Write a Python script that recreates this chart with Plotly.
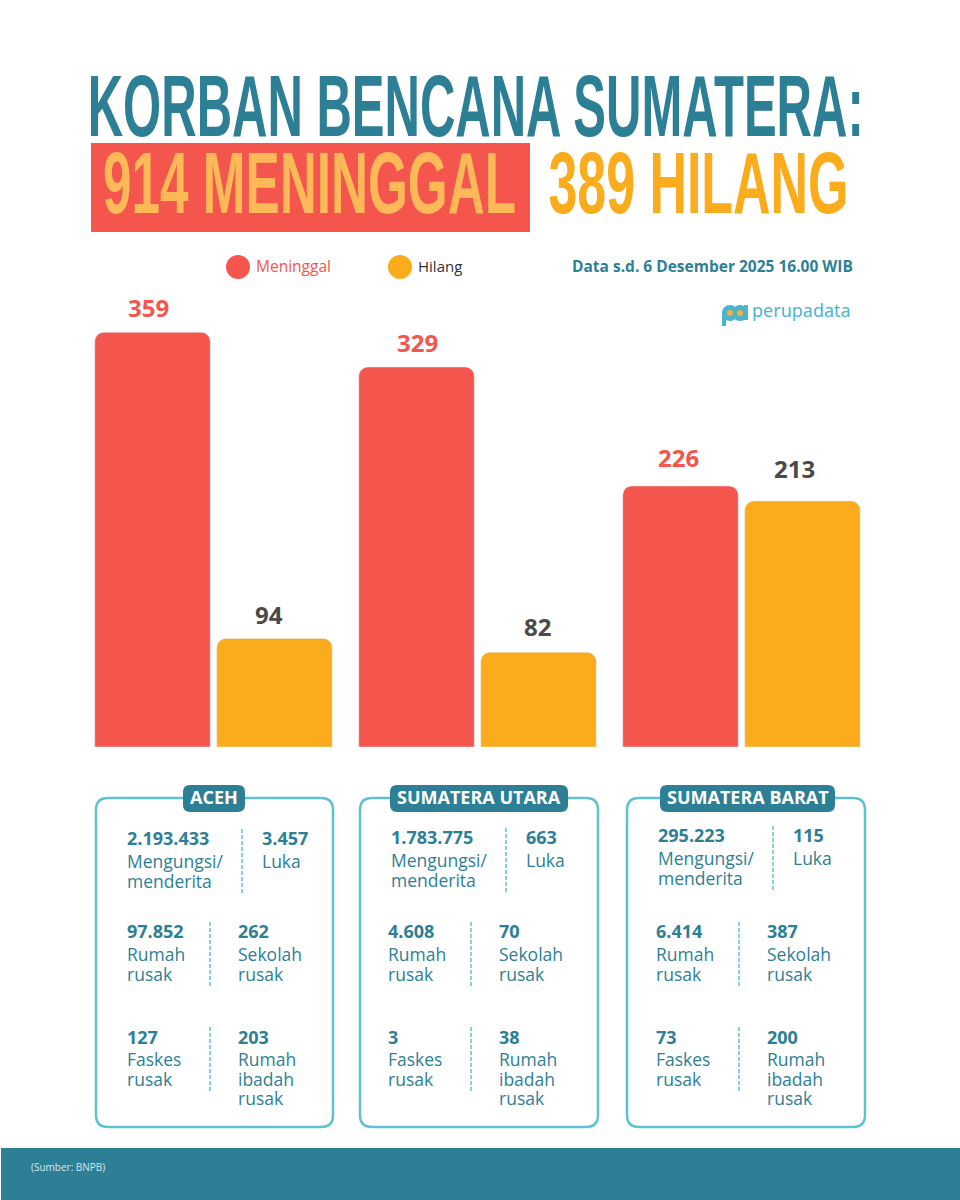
import json

import plotly.graph_objects as go

# data
provinsi = ["ACEH", "SUMATERA UTARA", "SUMATERA BARAT"]
meninggal = [359, 329, 226]
hilang = [94, 82, 213]

mengungsi = ["2.193.433", "1.783.775", "295.223"]
luka = ["3.457", "663", "115"]
rumah_rusak = ["97.852", "4.608", "6.414"]
sekolah_rusak = ["262", "70", "387"]
faskes_rusak = ["127", "3", "73"]
ibadah_rusak = ["203", "38", "200"]

TEAL = "#2d7f96"
RED = "#f4564e"
ORANGE = "#faac1c"
LIGHT = "#5fc3cf"
FONT = "Open Sans"
HEAD = "Liberation Sans"

W, H = 960, 1200


def px(x):
    return x / W


def py(y):
    return 1 - y / H


shapes = []
annotations = []
squeeze = {}


def text(x, y, s, size, color, bold=False, anchor="left", family=FONT):
    annotations.append(dict(
        x=px(x), y=py(y), xref="paper", yref="paper", text=f"<b>{s}</b>" if bold else s,
        showarrow=False, xanchor=anchor, yanchor="middle", borderpad=0,
        font=dict(size=size, color=color, family=family),
    ))


def headline(x0, x1, y, s, color):
    # tidak ada font condensed, jadi lebar teks dipaksa lewat textLength di browser
    annotations.append(dict(
        x=px((x0 + x1) / 2), y=py(y), xref="paper", yref="paper", text=s,
        showarrow=False, xanchor="center", yanchor="middle", borderpad=0,
        font=dict(size=87, color=color, family=HEAD, weight="bold"),
    ))
    squeeze[s] = x1 - x0


def bar_label(x, y, s, color, dx, dy):
    annotations.append(dict(
        x=x, y=y, xref="x", yref="y", text=f"<b>{s}</b>", showarrow=False,
        xanchor="center", yanchor="middle", xshift=dx, yshift=dy,
        font=dict(size=24, color=color, family=FONT),
    ))


def rect(x0, y0, x1, y1, color):
    shapes.append(dict(type="rect", xref="paper", yref="paper", x0=px(x0), x1=px(x1),
                       y0=py(y0), y1=py(y1), fillcolor=color, line_width=0, layer="below"))


def circle(cx, cy, r, color):
    shapes.append(dict(type="circle", xref="paper", yref="paper", x0=px(cx - r), x1=px(cx + r),
                       y0=py(cy - r), y1=py(cy + r), fillcolor=color, line_width=0))


def rounded(x0, y0, x1, y1, r, fill, line=None, width=0):
    p = (f"M {px(x0 + r)} {py(y0)} L {px(x1 - r)} {py(y0)} "
         f"Q {px(x1)} {py(y0)} {px(x1)} {py(y0 + r)} L {px(x1)} {py(y1 - r)} "
         f"Q {px(x1)} {py(y1)} {px(x1 - r)} {py(y1)} L {px(x0 + r)} {py(y1)} "
         f"Q {px(x0)} {py(y1)} {px(x0)} {py(y1 - r)} L {px(x0)} {py(y0 + r)} "
         f"Q {px(x0)} {py(y0)} {px(x0 + r)} {py(y0)} Z")
    shapes.append(dict(type="path", xref="paper", yref="paper", path=p, fillcolor=fill,
                       line=dict(color=line or fill, width=width)))


def divider(x, y0, y1):
    shapes.append(dict(type="line", xref="paper", yref="paper", x0=px(x), x1=px(x),
                       y0=py(y0), y1=py(y1), line=dict(color=LIGHT, width=1.5, dash="4px,2px")))


def stat(x, y, value, label_lines, y_label):
    text(x - 1, y, value, 18, TEAL, bold=True)
    for i, line in enumerate(label_lines):
        text(x - 1, y_label + i * 19.5, line, 17.5, TEAL)


fig = go.Figure()
fig.add_trace(go.Bar(x=provinsi, y=meninggal, name="Meninggal", marker_color=RED))
fig.add_trace(go.Bar(x=provinsi, y=hilang, name="Hilang", marker_color=ORANGE))

# label nilai, geser kecil supaya sama dengan posisi di gambar asli
dx_meninggal = [-65, -60, -63]
dy_meninggal = [25, 25, 28]
dx_hilang = [55, 60, 53]
dy_hilang = [24, 26, 32]
for i, nama in enumerate(provinsi):
    bar_label(nama, meninggal[i], meninggal[i], RED, dx_meninggal[i], dy_meninggal[i])
    bar_label(nama, hilang[i], hilang[i], "#4a4a4a", dx_hilang[i], dy_hilang[i])

# judul
rect(91, 143, 530, 232, RED)
headline(87, 863, 105, "KORBAN BENCANA SUMATERA:", TEAL)
headline(103, 516, 183, "914 MENINGGAL", "#fdb858")
headline(548, 848, 183, "389 HILANG", ORANGE)

# legenda
circle(238, 267, 12, RED)
text(255, 266, "Meninggal", 15.5, RED)
circle(400, 267, 12, ORANGE)
text(417, 266, "Hilang", 15, "#333333")
text(854, 266, "Data s.d. 6 Desember 2025 16.00 WIB", 15.5, TEAL, bold=True, anchor="right")

# logo
circle(730, 313, 8, "#4cb5cc")
circle(740, 313, 8, "#4cb5cc")
rect(722, 313, 726, 326, "#4cb5cc")
rect(744, 305, 748, 320, "#4cb5cc")
circle(730, 313, 3, "#f2b13c")
circle(740, 313, 3, "#f2b13c")
text(751, 310, "perupadata", 18, "#4cb5cc", family="Noto Sans")

# panel per provinsi
panel_x = [(96, 333), (360, 598), (627, 865)]
pill_x = [(183, 245), (390, 568), (660, 835)]
col1 = [127, 391, 658]
col2 = [262, 526, 793]
div_top = [242, 506, 773]
top_y = [838, 837, 835]
row_col1 = [127, 388, 656]
row_col2 = [238, 499, 767]
div_row = [210, 471, 739]

for i, nama in enumerate(provinsi):
    x0, x1 = panel_x[i]
    rounded(x0, 798, x1, 1127, 12, "rgba(255,255,255,0)", LIGHT, 2.5)
    a, b = pill_x[i]
    rounded(a, 785, b, 812, 7, TEAL)
    text((a + b) / 2, 797, nama, 18, "white", bold=True, anchor="center")

    t = top_y[i]
    stat(col1[i], t, mengungsi[i], ["Mengungsi/", "menderita"], t + 23)
    stat(col2[i], t, luka[i], ["Luka"], t + 23)
    divider(div_top[i], t - 9, t + 57)

    stat(row_col1[i], 931, rumah_rusak[i], ["Rumah", "rusak"], 954)
    stat(row_col2[i], 931, sekolah_rusak[i], ["Sekolah", "rusak"], 954)
    divider(div_row[i], 922, 987)

    stat(row_col1[i], 1037, faskes_rusak[i], ["Faskes", "rusak"], 1059)
    stat(row_col2[i], 1037, ibadah_rusak[i], ["Rumah", "ibadah", "rusak"], 1059)
    divider(div_row[i], 1027, 1092)

# footer
rect(1, 1148, 960, 1200, TEAL)
text(30, 1167, "(Sumber: BNPB)", 10, "#d5e8ee")

fig.update_layout(
    width=W, height=H, margin=dict(l=0, r=0, t=0, b=0, pad=0),
    paper_bgcolor="white", plot_bgcolor="white", showlegend=False,
    barmode="group", bargap=0.0758, bargroupgap=0.0533, barcornerradius=9,
    xaxis=dict(domain=[px(81.5), px(873.5)], visible=False, type="category", range=[-0.5, 2.5]),
    yaxis=dict(domain=[py(747), py(290)], visible=False, range=[0, 457 / 1.155]),
    shapes=shapes, annotations=annotations,
)

post = """
document.body.style.margin = '0';
var lebar = %s;
document.querySelectorAll('.annotation-text').forEach(function (t) {
    var n = lebar[t.textContent];
    if (n) {
        t.setAttribute('textLength', n);
        t.setAttribute('lengthAdjust', 'spacingAndGlyphs');
    }
});
""" % json.dumps(squeeze)

fig.write_html("out.html", post_script=post, config={"displayModeBar": False})
